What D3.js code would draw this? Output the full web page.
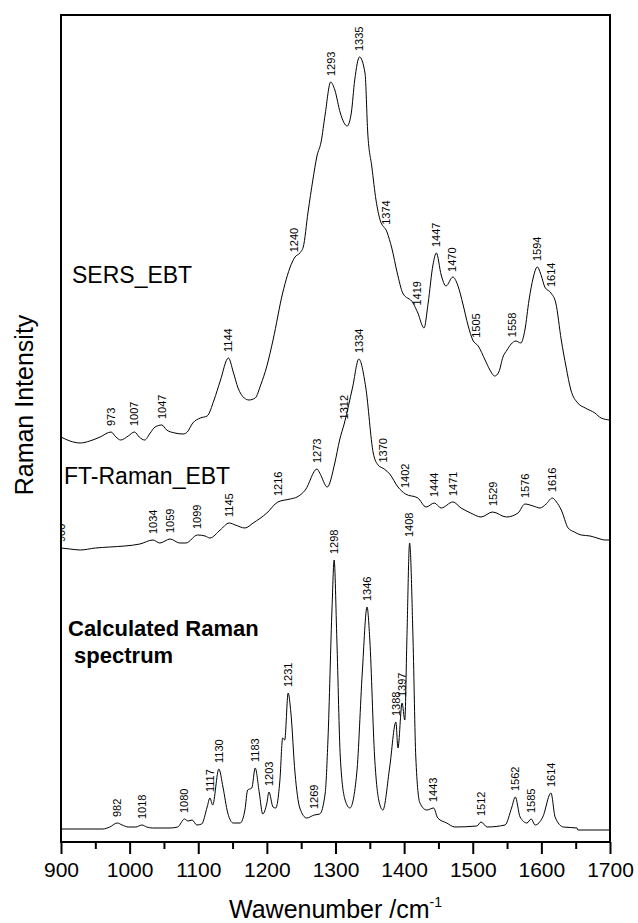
<!DOCTYPE html>
<html>
<head>
<meta charset="utf-8">
<script src="https://cdn.jsdelivr.net/npm/d3@7"></script>
<style>
  body { margin: 0; background: #fff; }
  text { font-family: "Liberation Sans", Arial, sans-serif; }
</style>
</head>
<body>
<svg></svg>
<script>
// spectra (wavenumber / intensity in a.u.)
const sersWn = [900, 913, 928, 942, 957, 973, 980, 987, 998, 1007, 1014, 1022, 1030, 1037, 1047, 1054, 1066, 1078, 1084, 1092,
  1103, 1113, 1123, 1132, 1144, 1151, 1158, 1167, 1174, 1183, 1191, 1200, 1209, 1223, 1237, 1241, 1248, 1253, 1260, 1267,
  1273, 1279, 1285, 1293, 1299, 1307, 1317, 1323, 1328, 1335, 1343, 1347, 1353, 1359, 1365, 1375, 1382, 1390, 1398, 1413,
  1420, 1429, 1435, 1442, 1447, 1454, 1461, 1471, 1478, 1486, 1493, 1500, 1508, 1518, 1525, 1532, 1538, 1544, 1550, 1556,
  1563, 1570, 1576, 1582, 1588, 1594, 1600, 1605, 1614, 1621, 1629, 1636, 1643, 1653, 1664, 1678, 1687, 1700];
const sersInt = [4050, 4010, 3990, 4010, 4050, 4100, 4050, 4020, 4060, 4100, 4050, 4020, 4090, 4150, 4170, 4120, 4090, 4080, 4100, 4190,
  4240, 4260, 4420, 4610, 4840, 4700, 4540, 4440, 4420, 4440, 4570, 4760, 5020, 5490, 5800, 5850, 5890, 5950, 6300, 6620,
  6860, 7000, 7280, 7600, 7520, 7290, 7160, 7290, 7620, 7850, 7690, 7090, 6750, 6420, 6220, 6100, 5940, 5690, 5490, 5390,
  5290, 5140, 5390, 5770, 5890, 5670, 5560, 5650, 5570, 5370, 5170, 5020, 4960, 4820, 4720, 4660, 4700, 4850, 4920, 4980,
  5010, 4990, 5120, 5420, 5640, 5750, 5660, 5550, 5490, 5390, 5020, 4750, 4520, 4390, 4340, 4290, 4240, 4220];

const ftWn = [900, 913, 928, 950, 971, 993, 1015, 1034, 1044, 1059, 1073, 1082, 1099, 1110, 1117, 1132, 1145, 1154, 1168, 1180,
  1200, 1216, 1234, 1244, 1256, 1273, 1277, 1288, 1299, 1306, 1313, 1325, 1334, 1344, 1355, 1362, 1371, 1379, 1391, 1402,
  1420, 1432, 1444, 1454, 1471, 1483, 1497, 1512, 1529, 1549, 1566, 1576, 1588, 1598, 1607, 1616, 1622, 1629, 1639, 1648,
  1658, 1671, 1681, 1693, 1700];
const ftInt = [2940, 2930, 2920, 2940, 2950, 2960, 2980, 3020, 2990, 3030, 2990, 2990, 3070, 3060, 3040, 3120, 3190, 3170, 3140, 3190,
  3290, 3400, 3430, 3450, 3520, 3730, 3690, 3550, 3790, 4020, 4190, 4550, 4830, 4550, 3890, 3770, 3730, 3680, 3550, 3480,
  3440, 3350, 3390, 3340, 3400, 3340, 3290, 3250, 3300, 3250, 3290, 3380, 3360, 3340, 3380, 3440, 3400, 3320, 3140, 3100,
  3070, 3060, 3040, 3020, 3020];

const calcWn = [900, 961, 971, 982, 989, 998, 1009, 1018, 1025, 1033, 1059, 1070, 1080, 1085, 1091, 1098, 1105, 1113, 1117, 1121,
  1130, 1136, 1143, 1151, 1161, 1168, 1172, 1178, 1183, 1189, 1194, 1200, 1203, 1209, 1213, 1219, 1223, 1226, 1231, 1235,
  1241, 1248, 1258, 1269, 1277, 1285, 1289, 1295, 1298, 1302, 1307, 1314, 1321, 1331, 1339, 1346, 1350, 1357, 1363, 1369,
  1379, 1388, 1391, 1397, 1401, 1404, 1408, 1413, 1417, 1423, 1433, 1443, 1449, 1462, 1474, 1506, 1512, 1521, 1547, 1557,
  1562, 1569, 1579, 1585, 1591, 1602, 1614, 1620, 1632, 1652, 1653, 1700];
const calcInt = [130, 130, 150, 190, 170, 150, 150, 170, 150, 140, 140, 150, 230, 210, 220, 170, 180, 350, 440, 370,
  730, 550, 290, 190, 190, 320, 520, 540, 740, 490, 280, 390, 500, 350, 340, 620, 1040, 1020, 1490, 1290,
  690, 340, 240, 270, 280, 490, 1020, 2350, 2820, 2020, 850, 420, 340, 690, 1690, 2350, 2020, 850, 420, 320,
  750, 1200, 940, 1390, 1220, 2020, 2990, 2020, 850, 390, 320, 340, 240, 190, 150, 160, 200, 150, 170, 350,
  450, 250, 190, 230, 170, 250, 490, 250, 150, 140, 120, 120];

// peak labels
const sersPeaks = [973, 1007, 1047, 1144, 1240, 1293, 1335, 1374, 1419, 1447, 1470, 1505, 1558, 1594, 1614];
const ftPeaks = [900, 1034, 1059, 1099, 1145, 1216, 1273, 1312, 1334, 1370, 1402, 1444, 1471, 1529, 1576, 1616];
const calcPeaks = [982, 1018, 1080, 1117, 1130, 1183, 1203, 1231, 1269, 1298, 1346, 1388, 1397, 1408, 1443, 1512, 1562, 1585, 1614];

const xTicks = [900, 1000, 1100, 1200, 1300, 1400, 1500, 1600, 1700];
const xMinorTicks = [950, 1050, 1150, 1250, 1350, 1450, 1550, 1650];

const margins = {t: 15, r: 28, b: 81, l: 61};
const SVGsize = {w: 638, h: 923};
const size = {
    w: SVGsize.w - margins.l - margins.r,
    h: SVGsize.h - margins.t - margins.b
};
const svg = d3.select('svg')
    .attr('width', SVGsize.w)
    .attr('height', SVGsize.h);
const containerG = svg.append('g')
    .attr('transform', `translate(${margins.l}, ${margins.t})`);

const scaleX = d3.scaleLinear()
    .domain([900, 1700])
    .range([0, size.w]);
const scaleY = d3.scaleLinear()
    .domain([0, 8270])
    .range([size.h, 0]);

svg.append('clipPath')
    .attr('id', 'plot-clip')
    .append('rect')
    .attr('width', size.w)
    .attr('height', size.h);

const plotG = containerG.append('g')
    .attr('clip-path', 'url(#plot-clip)');

const line = d3.line()
    .x(d => scaleX(d[0]))
    .y(d => scaleY(d[1]))
    .curve(d3.curveMonotoneX);

const spectra = [
    {wn: sersWn, val: sersInt, peaks: sersPeaks},
    {wn: ftWn, val: ftInt, peaks: ftPeaks},
    {wn: calcWn, val: calcInt, peaks: calcPeaks}
];

// value of a spectrum at a wavenumber, only used to place the labels
function valueAt(s, w) {
    const i = d3.bisectLeft(s.wn, w);
    if (i <= 0) return s.val[0];
    if (i >= s.wn.length) return s.val[s.wn.length - 1];
    const t = (w - s.wn[i - 1]) / (s.wn[i] - s.wn[i - 1]);
    return s.val[i - 1] + t * (s.val[i] - s.val[i - 1]);
}

spectra.forEach(s => {
    const pts = s.wn.map((w, i) => [w, s.val[i]]);
    plotG.append('path')
        .datum(pts)
        .attr('fill', 'none')
        .attr('stroke', '#000')
        .attr('stroke-width', 1)
        .attr('d', line);

    plotG.selectAll(null)
        .data(s.peaks)
        .join('text')
        .attr('transform', d => `translate(${scaleX(d)}, ${scaleY(valueAt(s, d)) - 6}) rotate(-90)`)
        .attr('dy', '0.35em')
        .attr('font-size', 11)
        .attr('fill', '#000')
        .text(d => d);
});

// frame
containerG.append('rect')
    .attr('width', size.w)
    .attr('height', size.h)
    .attr('fill', 'none')
    .attr('stroke', '#000')
    .attr('stroke-width', 2);

let axisX = d3.axisBottom(scaleX)
    .tickValues(xTicks)
    .tickSize(12)
    .tickPadding(8)
    .tickFormat(d3.format('d'));
let axisXG = containerG.append('g')
    .attr('transform', `translate(0, ${size.h})`)
    .call(axisX);
axisXG.select('.domain').remove();
axisXG.selectAll('line').attr('stroke-width', 2);
axisXG.selectAll('text')
    .attr('font-size', 21)
    .attr('font-family', '"Liberation Sans", Arial, sans-serif')
    .attr('fill', '#000');

let minorG = containerG.append('g')
    .attr('transform', `translate(0, ${size.h})`)
    .call(d3.axisBottom(scaleX).tickValues(xMinorTicks).tickSize(7).tickFormat(''));
minorG.select('.domain').remove();
minorG.selectAll('line').attr('stroke-width', 2);

// axis titles
const xTitle = svg.append('text')
    .attr('x', margins.l + size.w / 2)
    .attr('y', 918)
    .attr('text-anchor', 'middle')
    .attr('font-size', 25);
xTitle.append('tspan').text('Wawenumber /cm');
xTitle.append('tspan').attr('font-size', 14).attr('dy', -11).text('-1');

svg.append('text')
    .attr('transform', 'translate(33, 405) rotate(-90)')
    .attr('text-anchor', 'middle')
    .attr('font-size', 25)
    .text('Raman Intensity');

// spectrum names
svg.append('text').attr('x', 72).attr('y', 283).attr('font-size', 23).text('SERS_EBT');
svg.append('text').attr('x', 64).attr('y', 484).attr('font-size', 23).text('FT-Raman_EBT');
svg.append('text').attr('x', 68).attr('y', 636).attr('font-size', 22).attr('font-weight', 'bold').text('Calculated Raman');
svg.append('text').attr('x', 68).attr('y', 663).attr('font-size', 22).attr('font-weight', 'bold')
    .attr('xml:space', 'preserve').style('white-space', 'pre').text(' spectrum');
</script>
</body>
</html>
